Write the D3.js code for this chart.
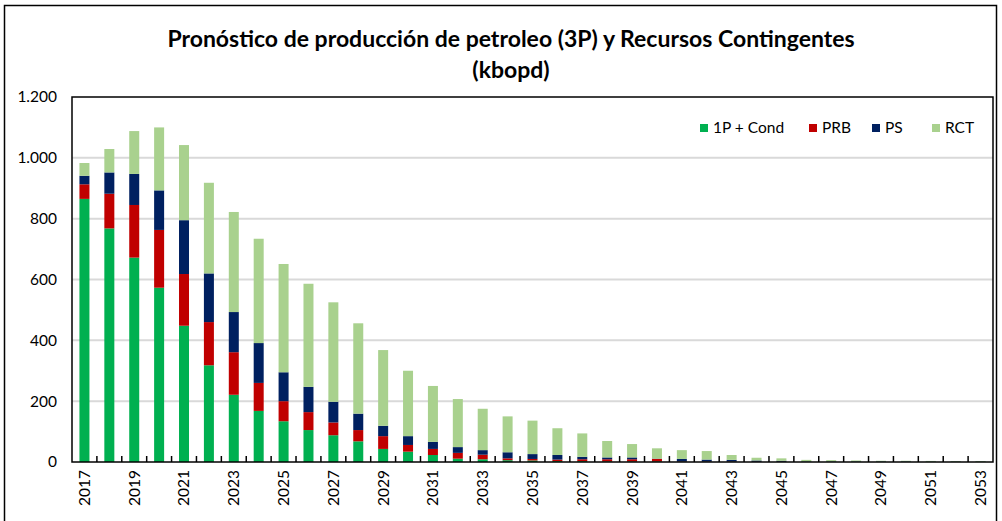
<!DOCTYPE html>
<head>
  <meta charset="utf-8">
  <script src="https://d3js.org/d3.v7.min.js"></script>
  <style>
    body { margin:0; background:#fff; }
    text { font-family: Lato, "Open Sans", sans-serif; fill:#000; }
  </style>
</head>
<body>
<script>
var years = d3.range(2017, 2054).map(String);
var series = ['1P + Cond', 'PRB', 'PS', 'RCT'];
var colors = ['#00b050', '#c00000', '#002060', '#a9d18e'];

// kbopd
var p1Cond = [865, 768, 672, 573, 448, 318, 221, 168, 134, 105, 88, 68, 43, 34, 23, 11, 9, 6, 5, 3, 3, 2, 2, 2, 1, 1, 1, 0.5, 0.5, 1, 1, 1, 1, 1, 1, 1, 1];
var prb    = [48, 114, 173, 190, 170, 142, 140, 92, 66, 59, 42, 37, 42, 22, 20, 19, 15, 6, 5, 5, 6, 7, 7, 8, 1, 1, 1, 0.5, 0.5, 0, 0, 0, 0, 0, 0, 0, 0];
var ps     = [28, 70, 102, 130, 177, 160, 132, 131, 95, 83, 68, 54, 34, 29, 23, 19, 15, 20, 16, 15, 8, 6, 6, 1, 8, 6, 5, 4, 3, 1, 1, 1, 1, 1, 0.5, 0.5, 0.5];
var rct    = [42, 77, 141, 207, 247, 298, 329, 343, 356, 339, 327, 297, 249, 215, 184, 158, 136, 118, 110, 88, 77, 54, 44, 34, 29, 28, 16, 9, 8, 5, 4, 3, 2, 2, 2, 1.5, 1.5];
var yTicks = [0, 200, 400, 600, 800, 1000, 1200];

var width = 1002, height = 521;
var m = {left: 72, right: 993, top: 97, bottom: 462};

var svg = d3.select('body').append('svg')
  .attr('width', width)
  .attr('height', height);

// outer chart frame
svg.append('rect')
  .attr('x', 4.5).attr('y', 5.5)
  .attr('width', 992).attr('height', 530)
  .attr('fill', 'none').attr('stroke', '#000').attr('stroke-width', 1.5);

var x = d3.scaleBand().domain(years).range([m.left, m.right]);
var y = d3.scaleLinear().domain([0, 1200]).range([m.bottom, m.top]);

// gridlines
svg.selectAll('.grid')
  .data(yTicks.slice(1, -1))
  .enter().append('line')
  .attr('x1', m.left).attr('x2', m.right)
  .attr('y1', function(d) { return y(d); })
  .attr('y2', function(d) { return y(d); })
  .attr('stroke', '#d9d9d9').attr('stroke-width', 2);

var rows = years.map(function(yr, i) {
  return {year: yr, '1P + Cond': p1Cond[i], 'PRB': prb[i], 'PS': ps[i], 'RCT': rct[i]};
});
var stack = d3.stack().keys(series)(rows);

var barW = 10;
svg.selectAll('.layer')
  .data(stack)
  .enter().append('g')
  .attr('fill', function(d, i) { return colors[i]; })
  .selectAll('rect')
  .data(function(d) { return d; })
  .enter().append('rect')
  .attr('x', function(d) { return x(d.data.year) + x.bandwidth() / 2 - barW / 2; })
  .attr('width', barW)
  .attr('y', function(d) { return y(d[1]); })
  .attr('height', function(d) { return y(d[0]) - y(d[1]); });

// plot area border
svg.append('rect')
  .attr('x', m.left).attr('y', m.top)
  .attr('width', m.right - m.left).attr('height', m.bottom - m.top)
  .attr('fill', 'none').attr('stroke', '#000').attr('stroke-width', 1.5);

// y axis labels
var fmt = function(d) { return d3.format(',')(d).replace(',', '.'); };
svg.selectAll('.ylab')
  .data(yTicks)
  .enter().append('text')
  .attr('x', 57)
  .attr('y', function(d) { return y(d); })
  .attr('dy', '0.35em')
  .attr('text-anchor', 'end')
  .style('font-size', '15.5px')
  .text(fmt);

// x ticks between categories (inward)
svg.selectAll('.xtick')
  .data(years.slice(1))
  .enter().append('line')
  .attr('x1', function(d) { return x(d); })
  .attr('x2', function(d) { return x(d); })
  .attr('y1', m.bottom).attr('y2', m.bottom - 6)
  .attr('stroke', '#000').attr('stroke-width', 1.5);

// x labels, every other year, rotated
svg.selectAll('.xlab')
  .data(years.filter(function(d, i) { return i % 2 === 0; }))
  .enter().append('text')
  .attr('transform', function(d) {
    return 'translate(' + (x(d) + x.bandwidth() / 2) + ',' + (m.bottom + 8) + ') rotate(-90)';
  })
  .attr('dy', '0.35em')
  .attr('text-anchor', 'end')
  .style('font-size', '15.5px')
  .text(function(d) { return d; });

// title
svg.append('text')
  .attr('x', 511).attr('y', 47)
  .attr('text-anchor', 'middle')
  .style('font-size', '23px').style('font-weight', 'bold')
  .text('Pronóstico de producción de petroleo (3P) y Recursos Contingentes');
svg.append('text')
  .attr('x', 511).attr('y', 78)
  .attr('text-anchor', 'middle')
  .style('font-size', '23px').style('font-weight', 'bold')
  .text('(kbopd)');

// legend
var legX = [700, 809, 872, 932];
var leg = svg.selectAll('.leg')
  .data(series)
  .enter().append('g')
  .attr('transform', function(d, i) { return 'translate(' + legX[i] + ',128)'; });
leg.append('rect')
  .attr('x', 0).attr('y', -4)
  .attr('width', 8).attr('height', 8)
  .attr('fill', function(d, i) { return colors[i]; });
leg.append('text')
  .attr('x', 13).attr('dy', '0.35em')
  .style('font-size', '15.5px')
  .text(function(d) { return d; });
</script>
</body>
